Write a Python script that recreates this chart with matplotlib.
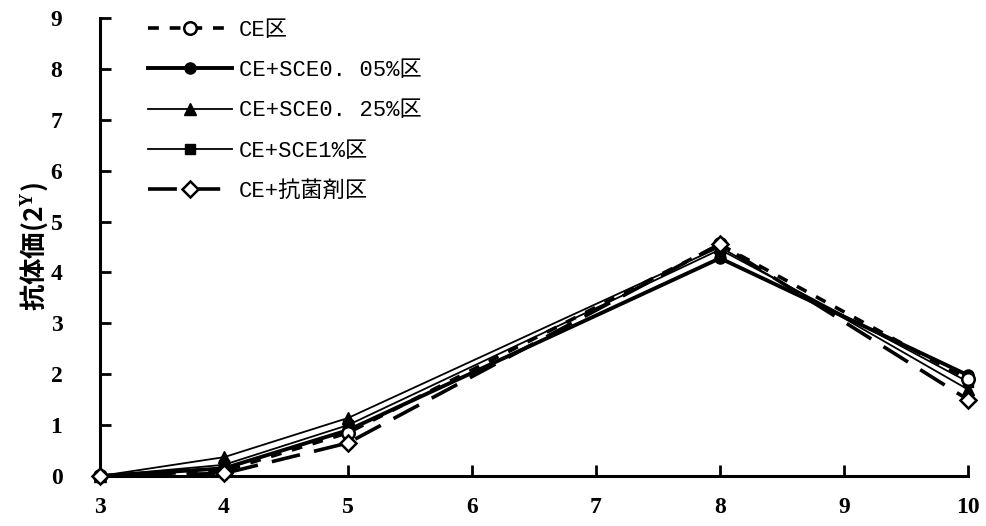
import matplotlib
matplotlib.use('Agg')
import matplotlib.pyplot as plt

plt.rcParams['font.family'] = ['Liberation Serif', 'Noto Sans CJK JP']
plt.rcParams['mathtext.fontset'] = 'custom'
plt.rcParams['mathtext.bf'] = 'Liberation Serif:bold'

# data
weeks = [3, 4, 5, 8, 10]
ce = [0, 0.10, 0.85, 4.55, 1.90]
sce005 = [0, 0.15, 0.90, 4.28, 1.98]
sce025 = [0, 0.37, 1.14, 4.50, 1.70]
sce1 = [0, 0.22, 1.00, 4.45, 1.85]
antibac = [0, 0.05, 0.65, 4.56, 1.50]

labels = ['CE区', 'CE+SCE0. 05%区', 'CE+SCE0. 25%区', 'CE+SCE1%区', 'CE+抗菌剤区']
xticks = [3, 4, 5, 6, 7, 8, 9, 10]
yticks = list(range(10))

fig = plt.figure(figsize=(9.87, 5.26), dpi=100)
ax = fig.add_axes([100/987, 50/526, 868/987, 458/526])

ax.plot(weeks, ce, color='black', lw=2.6, ls=(0, (3, 3)), marker='o', ms=9,
        mfc='white', mec='black', mew=1.8, label=labels[0], zorder=5, clip_on=False)
ax.plot(weeks, sce005, color='black', lw=2.8, marker='o', ms=8,
        mfc='black', mec='black', label=labels[1], zorder=4, clip_on=False)
ax.plot(weeks, sce025, color='black', lw=1.3, marker='^', ms=9,
        mfc='black', mec='black', label=labels[2], zorder=3, clip_on=False)
ax.plot(weeks, sce1, color='black', lw=1.3, marker='s', ms=7,
        mfc='black', mec='black', label=labels[3], zorder=3, clip_on=False)
ax.plot(weeks, antibac, color='black', lw=2.6, ls=(0, (8, 4)), marker='D', ms=8,
        mfc='white', mec='black', mew=1.8, label=labels[4], zorder=6, clip_on=False)

ax.set_xlim(3, 10)
ax.set_ylim(0, 9)
ax.set_xticks(xticks)
ax.set_yticks(yticks)
ax.spines['top'].set_visible(False)
ax.spines['right'].set_visible(False)
ax.spines['left'].set_linewidth(2.2)
ax.spines['bottom'].set_linewidth(2.2)
ax.tick_params(direction='in', length=8, width=2, labelsize=17)
for lab in ax.get_xticklabels() + ax.get_yticklabels():
    lab.set_fontweight('bold')
ax.tick_params(axis='x', pad=15)
ax.tick_params(axis='y', pad=27)

ax.set_ylabel('抗体価(2$^{\\mathbf{Y}}$)', fontsize=19, fontweight='bold',
              family='Noto Sans CJK JP', labelpad=0)

leg = ax.legend(loc='upper left', bbox_to_anchor=(0.032, 1.04), frameon=False,
                handlelength=3.8, handletextpad=0.3, labelspacing=0.87,
                prop={'family': ['Liberation Mono', 'Noto Sans CJK JP'], 'size': 16})

fig.savefig('out.png', dpi=100)
